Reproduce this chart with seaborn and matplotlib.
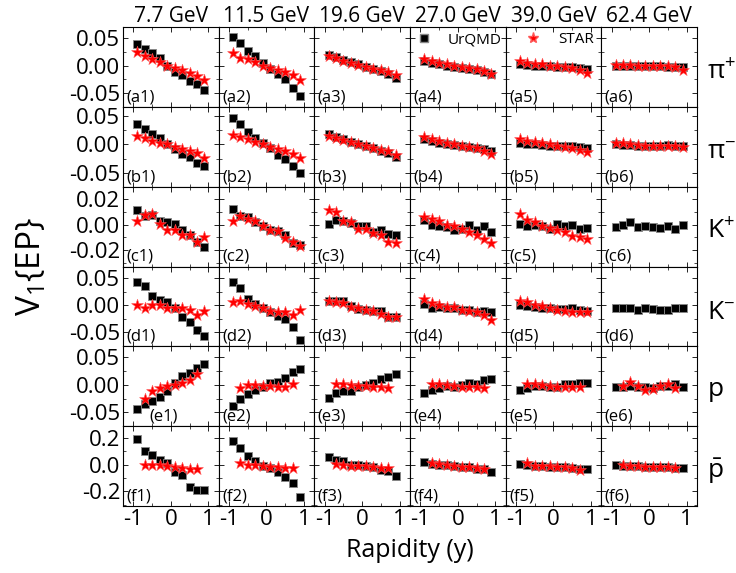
import numpy as np
import pandas as pd
import seaborn as sns
import matplotlib
matplotlib.use('Agg')
import matplotlib.pyplot as plt
from matplotlib.lines import Line2D
from matplotlib.ticker import AutoMinorLocator, FormatStrFormatter

energies = ['7.7 GeV', '11.5 GeV', '19.6 GeV', '27.0 GeV', '39.0 GeV', '62.4 GeV']
particles = [r'$\pi^{+}$', r'$\pi^{-}$', r'$K^{+}$', r'$K^{-}$', r'$p$', r'$\bar{p}$']
row_letters = ['a', 'b', 'c', 'd', 'e', 'f']

y_full = [-0.9, -0.7, -0.5, -0.3, -0.1, 0.1, 0.3, 0.5, 0.7, 0.9]
y_short = [-0.7, -0.5, -0.3, -0.1, 0.1, 0.3, 0.5, 0.7]

pi_plus_urqmd = [
    [0.040, 0.030, 0.023, 0.013, 0.000, -0.012, -0.017, -0.028, -0.033, -0.045],
    [0.051, 0.041, 0.026, 0.018, 0.005, -0.007, -0.016, -0.025, -0.040, -0.055],
    [0.020, 0.015, 0.010, 0.006, 0.002, -0.002, -0.006, -0.010, -0.015, -0.022],
    [0.008, 0.005, 0.002, 0.000, -0.002, -0.004, -0.006, -0.008, -0.011, -0.015],
    [0.002, 0.001, 0.000, 0.000, -0.001, -0.002, -0.002, -0.003, -0.004, -0.006],
    [0.000, 0.000, 0.000, -0.001, -0.001, -0.001, -0.001, -0.002, -0.002, -0.002],
]
pi_plus_star = [
    [0.024, 0.017, 0.011, 0.006, 0.000, -0.004, -0.009, -0.013, -0.019, -0.027],
    [0.023, 0.014, 0.011, 0.006, 0.000, -0.004, -0.009, -0.012, -0.018, -0.027],
    [0.017, 0.013, 0.009, 0.005, 0.001, -0.002, -0.006, -0.009, -0.012, -0.018],
    [0.011, 0.008, 0.004, 0.002, -0.001, -0.003, -0.005, -0.007, -0.010, -0.016],
    [0.009, 0.005, 0.003, 0.002, 0.000, -0.001, -0.003, -0.005, -0.008, -0.013],
    [0.001, 0.001, 0.001, 0.000, 0.000, 0.000, 0.000, -0.001, -0.003, -0.008],
]
pi_minus_urqmd = [
    [0.036, 0.027, 0.019, 0.011, 0.001, -0.008, -0.017, -0.023, -0.033, -0.039],
    [0.048, 0.036, 0.023, 0.011, 0.003, -0.006, -0.018, -0.026, -0.038, -0.051],
    [0.018, 0.014, 0.009, 0.005, 0.001, -0.003, -0.007, -0.011, -0.015, -0.022],
    [0.009, 0.006, 0.003, 0.001, -0.001, -0.003, -0.005, -0.006, -0.008, -0.012],
    [0.002, 0.001, 0.000, -0.001, -0.002, -0.002, -0.003, -0.003, -0.004, -0.006],
    [0.000, -0.001, -0.001, -0.002, -0.002, -0.002, -0.002, -0.001, -0.002, -0.002],
]
pi_minus_star = [
    [0.016, 0.011, 0.007, 0.003, 0.000, -0.004, -0.008, -0.011, -0.015, -0.024],
    [0.017, 0.013, 0.009, 0.005, 0.000, -0.004, -0.008, -0.012, -0.017, -0.024],
    [0.015, 0.011, 0.008, 0.004, 0.001, -0.003, -0.006, -0.009, -0.012, -0.018],
    [0.014, 0.009, 0.006, 0.003, 0.000, -0.002, -0.004, -0.007, -0.011, -0.017],
    [0.010, 0.007, 0.004, 0.002, 0.000, -0.002, -0.004, -0.006, -0.009, -0.013],
    [0.002, 0.002, 0.000, -0.001, -0.003, -0.002, -0.002, -0.002, -0.002, -0.005],
]
k_plus_urqmd = [
    [0.0115, 0.0072, 0.0080, 0.0027, 0.0019, 0.0008, -0.0040, -0.0080, -0.0133, -0.0173],
    [0.0125, 0.0072, 0.0059, 0.0019, -0.0013, -0.0045, -0.0053, -0.0080, -0.0147, -0.0160],
    [0.0008, 0.0035, 0.0027, 0.0013, -0.0013, -0.0013, -0.0061, -0.0040, -0.0072, -0.0085],
    [0.0035, 0.0000, -0.0013, -0.0021, -0.0040, -0.0035, 0.0000, -0.0040, -0.0013, -0.0061],
    [0.0008, -0.0008, -0.0005, -0.0013, -0.0035, 0.0005, -0.0013, -0.0005, -0.0032, -0.0027],
    [-0.0021, 0.0000, 0.0021, -0.0021, -0.0008, -0.0019, -0.0027, -0.0013, -0.0032, 0.0000],
]
k_plus_star = [
    [0.0032, 0.0080, 0.0088, 0.0008, -0.0045, -0.0045, -0.0085, -0.0085, -0.0133, -0.0099],
    [0.0032, 0.0072, 0.0048, 0.0027, -0.0013, -0.0045, -0.0053, -0.0107, -0.0133, -0.0165],
    [0.0112, 0.0099, 0.0032, 0.0019, -0.0035, -0.0035, -0.0067, -0.0080, -0.0133, -0.0147],
    [0.0061, 0.0048, 0.0027, 0.0000, -0.0013, -0.0032, -0.0059, -0.0085, -0.0112, -0.0147],
    [0.0085, 0.0035, 0.0021, -0.0008, -0.0027, -0.0040, -0.0061, -0.0088, -0.0099, -0.0112],
    None,
]
k_minus_urqmd = [
    [0.044, 0.035, 0.018, 0.009, 0.007, -0.004, -0.022, -0.031, -0.045, -0.056],
    [0.043, 0.032, 0.012, 0.002, -0.005, -0.012, -0.019, -0.026, -0.041, -0.064],
    [0.0074, 0.0074, 0.0074, -0.002, -0.007, -0.0087, -0.0098, -0.011, -0.022, -0.022],
    [0.0024, -0.005, -0.0037, -0.005, -0.005, -0.0087, -0.008, -0.0117, -0.0098, -0.0117],
    [0.0012, -0.0019, -0.0037, -0.005, -0.005, -0.0068, -0.0068, -0.0056, -0.0087, -0.011],
    [-0.005, -0.005, -0.005, -0.008, -0.005, -0.0068, -0.008, -0.0087, -0.005, -0.0056],
]
k_minus_star = [
    [0.0006, -0.0049, 0.0006, 0.0006, -0.005, -0.005, -0.005, -0.0087, -0.018, -0.0098],
    [0.0056, 0.0074, 0.0024, -0.0019, -0.005, -0.0098, -0.0117, -0.013, -0.018, -0.0087],
    [0.0074, 0.0068, 0.0043, -0.0025, -0.0055, -0.0087, -0.0098, -0.016, -0.021, -0.021],
    [0.0117, 0.0037, 0.0012, -0.0025, -0.0037, -0.0087, -0.0098, -0.013, -0.018, -0.0265],
    [0.0074, 0.0056, 0.0006, -0.0006, -0.005, -0.0087, -0.0098, -0.0117, -0.013, -0.013],
    None,
]
proton_urqmd = [
    [-0.044, -0.034, -0.029, -0.0215, -0.0105, 0.003, 0.0153, 0.0215, 0.0306, 0.038],
    [-0.038, -0.0257, -0.0171, -0.0092, -0.003, 0.003, 0.006, 0.0123, 0.0226, 0.0294],
    [-0.0233, -0.0153, -0.0105, -0.0105, -0.0043, 0.0, 0.003, 0.0105, 0.0135, 0.0197],
    [-0.014, -0.0092, -0.0061, -0.0018, -0.003, 0.0, 0.003, 0.0018, 0.008, 0.0105],
    [-0.0092, -0.0049, -0.0012, -0.0012, -0.003, -0.003, 0.0018, 0.0018, 0.003, 0.0043],
    [-0.0043, -0.0043, -0.0012, -0.003, -0.003, -0.0049, -0.0012, -0.0012, 0.0012, -0.0043],
]
proton_star = [
    [-0.0257, -0.0105, -0.0061, -0.0018, 0.0, 0.003, 0.008, 0.0197],
    [-0.0061, 0.0, 0.0, -0.0012, -0.0012, -0.003, -0.003, 0.0018],
    [0.0018, 0.0012, 0.0, -0.0012, -0.0018, -0.003, -0.0043, -0.0049],
    [0.0018, 0.0018, 0.0, -0.0018, -0.003, -0.003, -0.0043, -0.0049],
    [0.0018, 0.0012, 0.0, -0.0012, -0.003, -0.003, -0.0043, -0.0043],
    [-0.0012, 0.005, -0.0018, -0.0092, -0.008, -0.0018, 0.0012, -0.0061],
]
pbar_urqmd = [
    [0.191, 0.107, 0.074, 0.038, 0.010, -0.053, -0.079, -0.166, -0.193, -0.191],
    [0.176, 0.127, 0.063, 0.031, -0.008, -0.025, -0.053, -0.092, -0.140, -0.244],
    [0.056, 0.036, 0.025, 0.000, -0.003, -0.013, -0.020, -0.038, -0.046, -0.084],
    [0.023, 0.005, 0.000, -0.003, -0.013, -0.015, -0.020, -0.033, -0.033, -0.051],
    [0.005, 0.000, -0.013, -0.013, -0.015, -0.020, -0.020, -0.025, -0.033, -0.033],
    [0.000, -0.008, -0.013, -0.013, -0.015, -0.015, -0.020, -0.020, -0.025, -0.028],
]
pbar_star = [
    [0.000, -0.003, -0.003, -0.008, -0.015, -0.025, -0.033, -0.033],
    [0.010, 0.000, -0.003, -0.013, -0.015, -0.020, -0.025, -0.028],
    [0.005, 0.000, -0.008, -0.008, -0.013, -0.015, -0.025, -0.025],
    [0.010, 0.005, -0.003, -0.013, -0.015, -0.020, -0.028, -0.033],
    [0.010, -0.008, -0.008, -0.013, -0.015, -0.020, -0.025, -0.038],
    [-0.003, -0.008, -0.013, -0.015, -0.015, -0.020, -0.020, -0.025],
]

urqmd_rows = [pi_plus_urqmd, pi_minus_urqmd, k_plus_urqmd, k_minus_urqmd, proton_urqmd, pbar_urqmd]
star_rows = [pi_plus_star, pi_minus_star, k_plus_star, k_minus_star, proton_star, pbar_star]

# long table
recs = []
for r in range(6):
    for c in range(6):
        for yy, v in zip(y_full, urqmd_rows[r][c]):
            recs.append((r, c, 'UrQMD', yy, v))
        st = star_rows[r][c]
        if st is not None:
            xs = y_full if len(st) == 10 else y_short
            for yy, v in zip(xs, st):
                recs.append((r, c, 'STAR', yy, v))
df = pd.DataFrame(recs, columns=['row', 'col', 'source', 'rapidity', 'v1'])

sns.set_style('ticks')
plt.rcParams['font.family'] = ['Open Sans', 'DejaVu Sans']
plt.rcParams['mathtext.default'] = 'regular'
plt.rcParams['axes.unicode_minus'] = False
for k in ['text.color', 'axes.labelcolor', 'xtick.color', 'ytick.color', 'axes.edgecolor']:
    plt.rcParams[k] = 'black'

ylims = [(-0.075, 0.07), (-0.075, 0.067), (-0.033, 0.030),
         (-0.076, 0.072), (-0.075, 0.07), (-0.31, 0.29)]
yticks = [[-0.05, 0, 0.05], [-0.05, 0, 0.05], [-0.02, 0, 0.02],
          [-0.05, 0, 0.05], [-0.05, 0, 0.05], [-0.2, 0, 0.2]]
yfmt = ['%.2f', '%.2f', '%.2f', '%.2f', '%.2f', '%.1f']

fig, axes = plt.subplots(6, 6, figsize=(7.36, 5.73), dpi=100, sharex=True, sharey='row')
fig.subplots_adjust(left=0.1671, right=0.947, top=0.9529, bottom=0.1169, wspace=0, hspace=0)

for r in range(6):
    for c in range(6):
        ax = axes[r, c]
        sub = df[(df.row == r) & (df.col == c)]
        sns.scatterplot(data=sub[sub.source == 'UrQMD'], x='rapidity', y='v1', ax=ax,
                        marker='s', s=38, color='black', edgecolor='#888888', linewidth=0.6,
                        legend=False, zorder=2)
        sns.scatterplot(data=sub[sub.source == 'STAR'], x='rapidity', y='v1', ax=ax,
                        marker='*', s=80, color='red', edgecolor='#ff5555', linewidth=0.4,
                        legend=False, zorder=3)
        ax.set_xlim(-1.28, 1.28)
        ax.set_ylim(*ylims[r])
        ax.set_xticks([-1, 0, 1])
        ax.set_yticks(yticks[r])
        ax.yaxis.set_major_formatter(FormatStrFormatter(yfmt[r]))
        ax.xaxis.set_minor_locator(AutoMinorLocator(2))
        ax.yaxis.set_minor_locator(AutoMinorLocator(2))
        ax.tick_params(which='both', direction='in', top=True, right=True, labelsize=16, pad=2)
        ax.tick_params(which='major', length=3.5, width=0.6)
        ax.tick_params(which='minor', length=2, width=0.5)
        ax.set_xlabel('')
        ax.set_ylabel('')
        for sp in ax.spines.values():
            sp.set_linewidth(0.8)
        lx = 0.28 if (r == 4 and c == 0) else 0.035
        ax.text(lx, 0.02, '(%s%d)' % (row_letters[r], c + 1), transform=ax.transAxes,
                ha='left', va='bottom', fontsize=12)
        if r == 0:
            ax.set_title(energies[c], fontsize=15, pad=3)
        if c == 5:
            ax.text(1.1, 0.43, particles[r], transform=ax.transAxes, ha='left', va='center',
                    fontsize=19)

leg_kw = dict(loc='center right', frameon=False, fontsize=11, handlelength=1.0,
              handletextpad=1.1, borderaxespad=0, borderpad=0)
axes[0, 3].legend(handles=[Line2D([], [], marker='s', ls='', color='black',
                                  markeredgecolor='#888888', markersize=5.5)],
                  labels=['UrQMD'], bbox_to_anchor=(0.96, 0.84), **leg_kw)
axes[0, 4].legend(handles=[Line2D([], [], marker='*', ls='', color='red',
                                  markeredgecolor='#ff5555', markersize=8)],
                  labels=['STAR'], bbox_to_anchor=(0.92, 0.84), **leg_kw)

fig.text(0.043, 0.535, 'V$_1${EP}', rotation=90, ha='center', va='center', fontsize=24)
fig.text(0.557, 0.04, 'Rapidity (y)', ha='center', va='center', fontsize=18)

fig.savefig('out.png', dpi=100)
